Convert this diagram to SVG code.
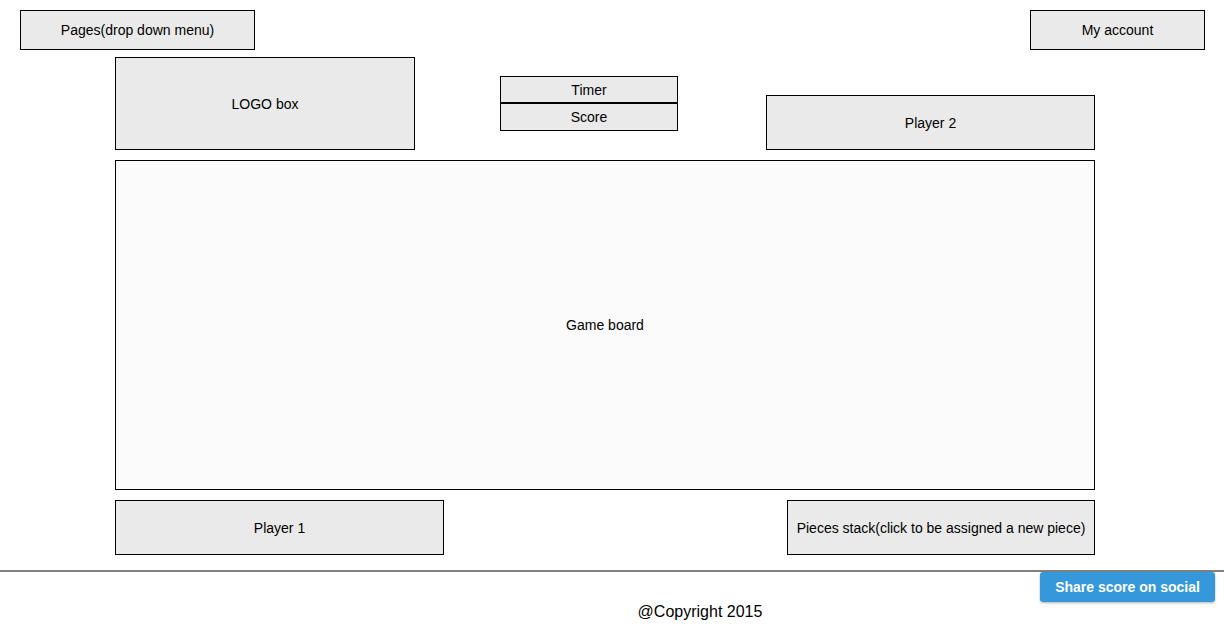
<svg xmlns="http://www.w3.org/2000/svg" width="1224" height="640" viewBox="0 0 1224 640">
<style>
.box{fill:#eaeaea;stroke:#000;stroke-width:1}
.board{fill:#fbfbfb;stroke:#000;stroke-width:1}
.lbl{font-family:"Liberation Sans",Arial,sans-serif;font-size:14px;fill:#000;text-anchor:middle;dominant-baseline:central}
</style>
<defs>
<filter id="sh" x="-10%" y="-20%" width="120%" height="150%">
<feDropShadow dx="0" dy="1" stdDeviation="1" flood-color="#000" flood-opacity="0.3"/>
</filter>
</defs>
<rect width="1224" height="640" fill="#fff"/>
<g id="pages"><rect class="box" x="20.5" y="10.5" width="234" height="39"/><text class="lbl" x="137.5" y="30">Pages(drop down menu)</text></g>
<g id="account"><rect class="box" x="1030.5" y="10.5" width="174" height="39"/><text class="lbl" x="1117.5" y="30">My account</text></g>
<g id="logo"><rect class="box" x="115.5" y="57.5" width="299" height="92"/><text class="lbl" x="265" y="104">LOGO box</text></g>
<g id="timer"><rect class="box" x="500.5" y="76.5" width="177" height="26"/><text class="lbl" x="589" y="90">Timer</text></g>
<g id="score"><rect class="box" x="500.5" y="103.5" width="177" height="27"/><text class="lbl" x="589" y="117">Score</text></g>
<line x1="500.5" y1="103" x2="677.5" y2="103" stroke="#000" stroke-width="2"/>
<g id="player2"><rect class="box" x="766.5" y="95.5" width="328" height="54"/><text class="lbl" x="930.5" y="123">Player 2</text></g>
<g id="board"><rect class="board" x="115.5" y="160.5" width="979" height="329"/><text class="lbl" x="605" y="325">Game board</text></g>
<g id="player1"><rect class="box" x="115.5" y="500.5" width="328" height="54"/><text class="lbl" x="279.5" y="528">Player 1</text></g>
<g id="pieces"><rect class="box" x="787.5" y="500.5" width="307" height="54"/><text class="lbl" x="941" y="528">Pieces stack(click to be assigned a new piece)</text></g>
<g id="connectors"><line x1="0" y1="571" x2="1224" y2="571" stroke="#808080" stroke-width="2"/></g>
<g id="share"><rect x="1040" y="572" width="175" height="30" rx="3" fill="#3498db" filter="url(#sh)"/><text x="1127.5" y="587" font-family="'Liberation Sans',Arial,sans-serif" font-size="14px" font-weight="bold" fill="#fff" text-anchor="middle" dominant-baseline="central">Share score on social</text></g>
<g id="copyright"><text x="700" y="611" font-family="'Liberation Sans',Arial,sans-serif" font-size="16px" fill="#000" text-anchor="middle" dominant-baseline="central">@Copyright 2015</text></g>
</svg>
